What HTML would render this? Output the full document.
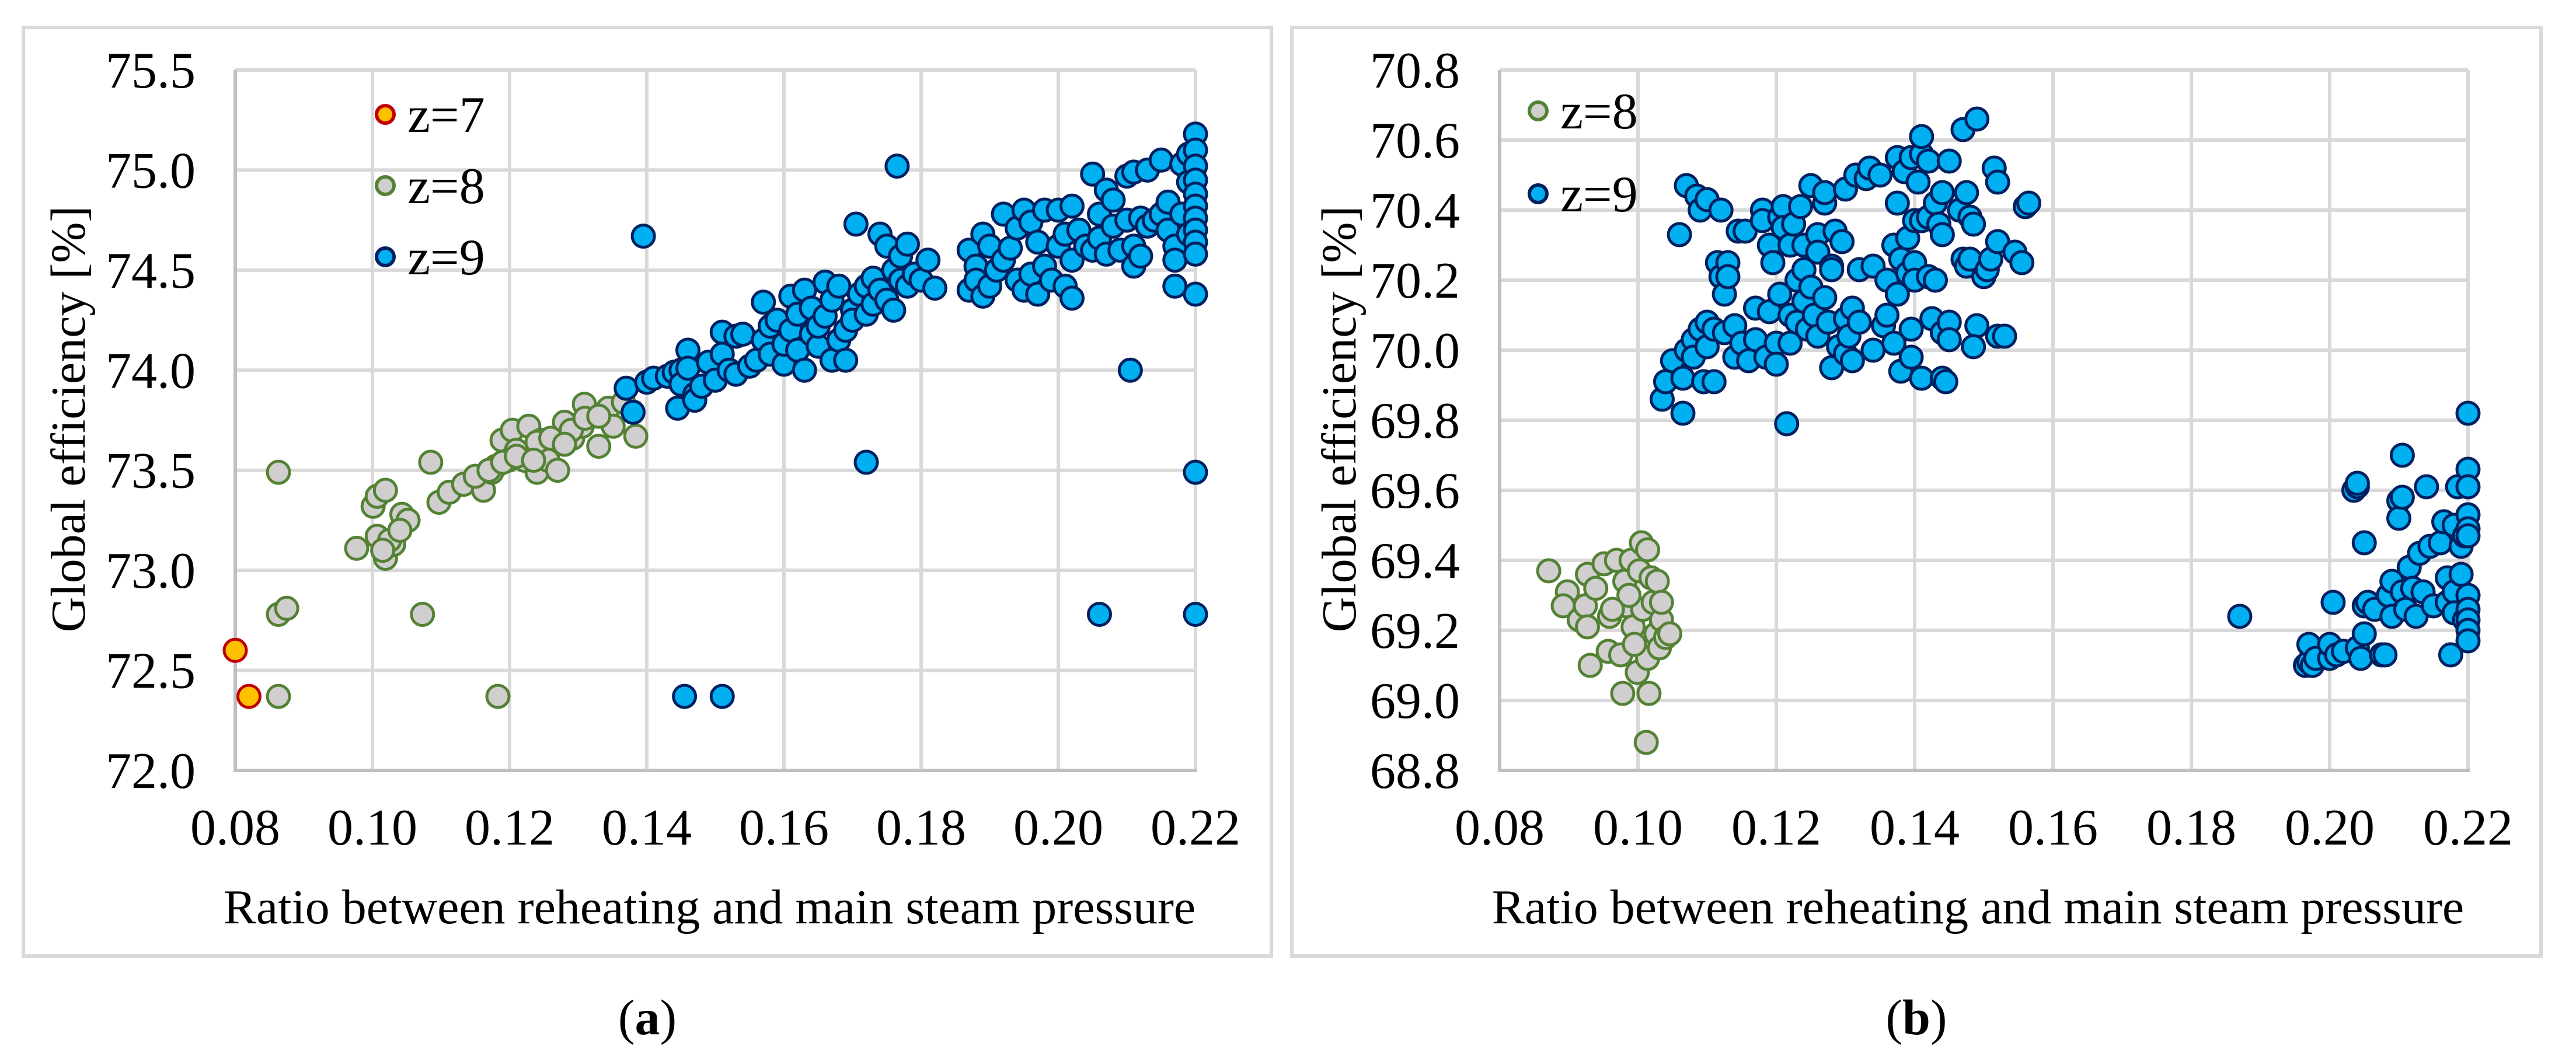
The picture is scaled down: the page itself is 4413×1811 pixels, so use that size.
<!DOCTYPE html>
<html><head><meta charset="utf-8">
<style>
html,body{margin:0;padding:0;background:#fff;}
svg{display:block;}
svg text{font-family:"Liberation Serif","Times New Roman","DejaVu Serif",serif;fill:#000;}
</style></head>
<body>
<svg id="fig" width="4413" height="1811" viewBox="0 0 4413 1811" xmlns="http://www.w3.org/2000/svg" font-family="Liberation Serif, DejaVu Serif, serif">
<rect x="0" y="0" width="4413" height="1811" fill="#fff"/>
<rect x="40" y="47" width="2138" height="1591" fill="none" stroke="#d9d9d9" stroke-width="6"/>
<rect x="2213" y="47" width="2140" height="1591" fill="none" stroke="#d9d9d9" stroke-width="6"/>
<g id="chartA"></g>
<g id="chartB"></g>
<text x="1109" y="1772" font-size="86" text-anchor="middle">(<tspan font-weight="bold">a</tspan>)</text>
<text x="3283" y="1772" font-size="86" text-anchor="middle">(<tspan font-weight="bold">b</tspan>)</text>
</svg>
<script>
// ---------- Chart A data ----------
const xTicksA = [0.08,0.10,0.12,0.14,0.16,0.18,0.20,0.22];
const xTickLabelsA = ["0.08","0.10","0.12","0.14","0.16","0.18","0.20","0.22"];
const yTicksA = [72.0,72.5,73.0,73.5,74.0,74.5,75.0,75.5];
const yTickLabelsA = ["72.0","72.5","73.0","73.5","74.0","74.5","75.0","75.5"];
const a_z7_x = [0.080,0.082];
const a_z7_y = [72.60,72.37];
const a_z8_x = [0.0863,0.0863,0.0875,0.0863,0.1073,0.1183,0.0977,0.1001,0.1007,0.1019,0.1007,0.1019,0.1031,0.1043,0.1052,0.1085,0.1097,0.1112,0.1133,0.1162,0.1172,0.1180,0.1189,0.1204,0.1210,0.1228,0.1240,0.1246,0.1256,0.1270,0.1280,0.1292,0.1309,0.1306,0.1330,0.1344,0.1351,0.1366,0.1384,0.1222,0.1198,0.1174,0.115,0.117,0.119,0.121,0.124,0.126,0.129,0.131,0.133,0.128,0.1235,0.1025,0.104,0.1015];
const a_z8_y = [73.49,72.78,72.81,72.37,72.78,72.37,73.11,73.32,73.37,73.40,73.17,73.06,73.13,73.28,73.25,73.54,73.34,73.39,73.43,73.40,73.50,73.52,73.65,73.70,73.60,73.72,73.49,73.65,73.55,73.50,73.74,73.66,73.83,73.72,73.62,73.81,73.72,73.84,73.67,73.55,73.55,73.49,73.47,73.50,73.54,73.57,73.64,73.66,73.70,73.76,73.77,73.63,73.55,73.15,73.20,73.10];
const a_z9_x = [0.1395,0.1765,0.1705,0.172,0.2105,0.22,0.206,0.22,0.1455,0.151,0.22,0.217,0.138,
0.137,0.140,0.141,0.143,0.144,0.145,0.145,0.1445,0.146,0.146,0.147,0.147,0.148,0.149,0.150,0.151,0.151,0.152,0.153,0.153,0.154,0.155,0.156,0.157,0.157,0.158,0.158,0.159,0.160,0.160,0.161,0.161,0.162,0.162,0.163,0.163,0.164,0.164,0.165,0.165,0.166,0.166,0.167,0.167,0.168,0.168,0.169,0.169,0.170,0.170,0.171,0.172,0.172,0.173,0.173,0.174,0.174,0.175,0.175,0.176,0.176,0.177,0.177,0.178,0.178,0.179,0.180,0.181,0.182,
0.187,0.187,0.188,0.188,0.189,0.189,0.190,0.190,0.191,0.192,0.192,0.193,0.194,0.194,0.195,0.195,0.196,0.196,0.197,0.197,0.198,0.198,0.199,0.200,0.200,0.201,0.201,0.202,0.202,0.202,0.203,0.204,0.205,0.205,0.206,0.206,0.207,0.207,0.208,0.208,0.209,0.210,0.210,0.211,0.211,0.211,0.212,0.212,0.213,0.213,0.214,0.215,0.215,0.216,0.216,0.217,0.217,0.218,0.218,0.219,0.219,0.219,0.220,0.220,0.220,0.220,0.220,0.220,0.220,0.220,0.220,0.220];
const a_z9_y = [74.67,75.02,74.73,73.54,74.00,73.49,72.78,72.78,72.37,72.37,74.38,74.42,73.79,
73.91,73.94,73.96,73.97,73.99,74.00,73.93,73.81,74.10,74.01,73.88,73.85,73.92,74.04,73.95,74.19,74.08,74.00,74.17,73.98,74.18,74.02,74.05,74.34,74.15,74.22,74.08,74.25,74.03,74.13,74.37,74.20,74.10,74.28,74.40,74.00,74.18,74.31,74.12,74.22,74.44,74.27,74.05,74.35,74.15,74.42,74.20,74.05,74.30,74.25,74.38,74.42,74.28,74.46,74.33,74.40,74.68,74.62,74.35,74.30,74.50,74.57,74.45,74.63,74.42,74.48,74.45,74.55,74.41,
74.60,74.40,74.52,74.45,74.37,74.68,74.62,74.42,74.50,74.78,74.55,74.61,74.45,74.71,74.80,74.40,74.74,74.48,74.64,74.38,74.80,74.52,74.45,74.62,74.80,74.68,74.42,74.36,74.82,74.55,74.70,74.62,74.98,74.60,74.78,74.66,74.90,74.58,74.85,74.72,74.60,74.97,74.75,74.52,74.62,74.99,74.57,74.76,75.00,74.72,74.75,74.78,75.05,74.84,74.70,74.62,74.55,75.03,74.78,75.08,74.94,74.68,75.18,75.10,75.02,74.95,74.88,74.82,74.76,74.70,74.64,74.58];

// ---------- Chart B data ----------
const xTicksB = [0.08,0.10,0.12,0.14,0.16,0.18,0.20,0.22];
const xTickLabelsB = ["0.08","0.10","0.12","0.14","0.16","0.18","0.20","0.22"];
const yTicksB = [68.8,69.0,69.2,69.4,69.6,69.8,70.0,70.2,70.4,70.6,70.8];
const yTickLabelsB = ["68.8","69.0","69.2","69.4","69.6","69.8","70.0","70.2","70.4","70.6","70.8"];
const b_z8_x = [0.0871,0.0898,0.0892,0.0915,0.0927,0.0924,0.0931,0.0939,0.0927,0.0951,0.0957,0.0959,0.0969,0.0975,0.0978,0.0981,0.0983,0.0990,0.0993,0.0999,0.1005,0.1002,0.1007,0.1012,0.1016,0.1014,0.1019,0.1022,0.1026,0.1031,0.1034,0.1040,0.1046,0.1028,0.1014,0.0987,0.0963,0.0995,0.1034];
const b_z8_y = [69.37,69.31,69.27,69.23,69.36,69.27,69.10,69.32,69.21,69.39,69.14,69.24,69.40,69.13,69.02,69.34,69.27,69.40,69.21,69.08,69.45,69.37,69.26,68.88,69.02,69.12,69.35,69.28,69.19,69.15,69.23,69.18,69.19,69.34,69.43,69.30,69.26,69.16,69.28];
const b_z9_x = [0.1035,0.104,0.105,0.106,0.1065,0.1065,0.107,0.107,0.108,0.108,0.1085,0.109,0.109,0.1095,0.110,0.110,0.110,0.111,0.111,0.1115,0.112,0.112,0.1125,0.1125,0.113,0.113,0.114,0.114,0.1145,0.115,0.1155,0.116,0.117,0.117,0.118,0.118,0.1185,0.119,0.119,0.1195,0.120,0.120,0.1205,0.1205,0.121,0.121,0.1215,0.122,0.122,0.122,0.1225,0.123,0.123,0.1235,0.124,0.124,0.124,0.1245,0.125,0.125,0.1255,0.126,0.126,0.126,0.127,0.127,0.127,0.1275,0.128,0.128,0.128,0.1285,0.129,0.1295,0.130,0.130,0.130,0.1305,0.131,0.131,0.1315,0.132,0.132,0.133,0.1335,0.134,0.134,0.135,0.1355,0.136,0.136,0.137,0.137,0.1375,0.1375,0.1375,0.138,0.138,0.1385,0.139,0.139,0.1395,0.1395,0.1395,0.140,0.140,0.140,0.1405,0.141,0.141,0.141,0.141,0.142,0.142,0.142,0.1425,0.143,0.143,0.1435,0.144,0.144,0.144,0.144,0.1445,0.145,0.145,0.145,0.1465,0.147,0.147,0.1475,0.1475,0.148,0.148,0.1485,0.149,0.149,0.1485,0.150,0.1505,0.151,0.1515,0.152,0.152,0.152,0.153,0.1545,0.1555,0.156,0.1565,
0.187,0.1965,0.197,0.1975,0.197,0.198,0.200,0.200,0.201,0.2005,0.202,0.2035,0.204,0.204,0.204,0.2045,0.205,0.205,0.205,0.2055,0.2065,0.2075,0.208,0.2085,0.209,0.209,0.210,0.210,0.2105,0.2105,0.2105,0.211,0.2115,0.212,0.2125,0.213,0.2135,0.214,0.2145,0.215,0.216,0.2165,0.217,0.217,0.2175,0.218,0.218,0.218,0.2185,0.219,0.219,0.2195,0.2195,0.220,0.220,0.220,0.220,0.220,0.220,0.220,0.220,0.220,0.220,0.220];
const b_z9_y = [69.86,69.91,69.97,70.33,69.82,69.92,70.00,70.47,70.03,69.98,70.44,70.40,70.06,69.91,70.43,70.08,70.01,70.06,69.91,70.25,70.40,70.21,70.05,70.16,70.25,70.21,70.07,69.98,70.34,70.02,70.34,69.97,70.12,70.03,70.40,70.37,69.98,70.30,70.11,70.25,70.02,69.96,70.38,70.16,70.41,70.35,69.79,70.30,70.10,70.02,70.36,70.20,70.08,70.41,70.14,70.30,70.23,70.06,70.47,70.18,70.10,70.33,70.04,70.28,70.42,70.45,70.15,70.08,70.24,69.95,70.23,70.34,70.01,70.31,70.09,69.99,70.46,70.04,70.12,69.97,70.50,70.23,70.08,70.49,70.52,70.00,70.24,70.50,70.07,70.20,70.10,70.30,70.02,70.55,70.42,70.16,70.26,69.94,70.51,70.32,70.22,70.55,70.06,69.98,70.37,70.25,70.20,70.48,70.56,70.61,70.37,69.92,70.38,70.21,70.54,70.09,70.42,70.20,70.36,70.45,70.33,70.05,69.92,69.91,70.08,70.03,70.54,70.40,70.26,70.63,70.24,70.45,70.38,70.26,70.36,70.66,70.07,70.01,70.21,70.23,70.26,70.52,70.48,70.31,70.04,70.04,70.28,70.25,70.41,70.42,
69.24,69.10,69.11,69.10,69.16,69.12,69.12,69.16,69.13,69.28,69.14,69.60,69.61,69.62,69.15,69.12,69.45,69.27,69.19,69.28,69.26,69.13,69.13,69.30,69.34,69.24,69.57,69.52,69.70,69.58,69.31,69.26,69.38,69.32,69.24,69.42,69.31,69.61,69.44,69.27,69.45,69.51,69.35,69.28,69.13,69.50,69.31,69.25,69.61,69.44,69.36,69.47,69.23,69.82,69.66,69.61,69.53,69.49,69.47,69.30,69.26,69.23,69.20,69.17];

const NS = "http://www.w3.org/2000/svg";
const FONT = "Liberation Serif, DejaVu Serif, serif";
const STY = {
  z7:{fill:"#ffc000",stroke:"#c00000"},
  z8:{fill:"#d0cece",stroke:"#548235"},
  z9:{fill:"#00b0f0",stroke:"#002060"}
};
function mk(tag, parent){ const e=document.createElementNS(NS,tag); parent.appendChild(e); if(tag==="text") e.setAttribute("font-family",FONT); return e; }

function drawChart(g, cfg){
  const sx = v => cfg.x0 + (v - cfg.xmin)/(cfg.xmax - cfg.xmin)*(cfg.x1 - cfg.x0);
  const sy = v => cfg.y1 - (v - cfg.ymin)/(cfg.ymax - cfg.ymin)*(cfg.y1 - cfg.y0);
  cfg.yTicks.forEach((t,i)=>{
    if(i===0) return;
    const l=mk("line",g);
    
    
    l.setAttribute("x1",cfg.x0); l.setAttribute("x2",cfg.x1);
    l.setAttribute("y1",sy(t)); l.setAttribute("y2",sy(t));
    l.setAttribute("stroke","#d9d9d9"); l.setAttribute("stroke-width","6");
  });
  cfg.xTicks.forEach((t,i)=>{
    if(i===0) return;
    const l=mk("line",g);
    
    
    l.setAttribute("x1",sx(t)); l.setAttribute("x2",sx(t));
    l.setAttribute("y1",cfg.y0); l.setAttribute("y2",cfg.y1);
    l.setAttribute("stroke","#d9d9d9"); l.setAttribute("stroke-width","6");
  });
  const ax=mk("line",g);
  
  
  ax.setAttribute("x1",cfg.x0-3); ax.setAttribute("x2",cfg.x1+3);
  ax.setAttribute("y1",cfg.y1); ax.setAttribute("y2",cfg.y1);
  ax.setAttribute("stroke","#bfbfbf"); ax.setAttribute("stroke-width","6");
  const ay=mk("line",g);
  
  
  ay.setAttribute("x1",cfg.x0); ay.setAttribute("x2",cfg.x0);
  ay.setAttribute("y1",cfg.y0); ay.setAttribute("y2",cfg.y1+3);
  ay.setAttribute("stroke","#bfbfbf"); ay.setAttribute("stroke-width","6");
  cfg.yTicks.forEach((t,i)=>{
    const tx=mk("text",g);
    
    
    tx.setAttribute("x",cfg.x0-68); tx.setAttribute("y",sy(t)+30);
    tx.setAttribute("text-anchor","end"); tx.setAttribute("font-size","88");
    tx.textContent=cfg.yLabels[i];
  });
  cfg.xTicks.forEach((t,i)=>{
    const tx=mk("text",g);
    
    
    tx.setAttribute("x",sx(t)); tx.setAttribute("y",1447);
    tx.setAttribute("text-anchor","middle"); tx.setAttribute("font-size","88");
    tx.textContent=cfg.xLabels[i];
  });
  const xt=mk("text",g);
  
  
  xt.setAttribute("x",(cfg.x0+cfg.x1)/2-10); xt.setAttribute("y",1582);
  xt.setAttribute("text-anchor","middle"); xt.setAttribute("font-size","84");
  xt.textContent="Ratio between reheating and main steam pressure";
  const yt=mk("text",g);
  
  
  yt.setAttribute("transform","translate("+cfg.ytx+",718) rotate(-90)");
  yt.setAttribute("text-anchor","middle"); yt.setAttribute("font-size","84");
  yt.textContent="Global efficiency [%]";
  cfg.series.forEach(s=>{
    const sg=mk("g",g);
    
    
    s.xs.forEach((xv,i)=>{
      const c=mk("circle",sg);
      
      
      c.setAttribute("cx",sx(xv)); c.setAttribute("cy",sy(s.ys[i])); c.setAttribute("r","19");
      c.setAttribute("fill",STY[s.key].fill); c.setAttribute("stroke",STY[s.key].stroke); c.setAttribute("stroke-width","5");
    });
  });
  cfg.legend.forEach((lg,i)=>{
    const c=mk("circle",g);
    
    
    c.setAttribute("cx",cfg.lgx); c.setAttribute("cy",lg.y); c.setAttribute("r","15");
    c.setAttribute("fill",STY[lg.key].fill); c.setAttribute("stroke",STY[lg.key].stroke); c.setAttribute("stroke-width","6");
    const t=mk("text",g);
    
    
    t.setAttribute("x",cfg.lgx+38); t.setAttribute("y",lg.y+30); t.setAttribute("font-size","88");
    t.textContent=lg.label;
  });
}

drawChart(document.getElementById("chartA"),{
  x0:403,x1:2048,y0:120,y1:1320,xmin:0.08,xmax:0.22,ymin:72.0,ymax:75.5,
  xTicks:xTicksA,xLabels:xTickLabelsA,yTicks:yTicksA,yLabels:yTickLabelsA,ytx:145,
  series:[{key:"z8",xs:a_z8_x,ys:a_z8_y},{key:"z9",xs:a_z9_x,ys:a_z9_y},{key:"z7",xs:a_z7_x,ys:a_z7_y}],
  lgx:660,legend:[{key:"z7",label:"z=7",y:196},{key:"z8",label:"z=8",y:318},{key:"z9",label:"z=9",y:440}]
});
drawChart(document.getElementById("chartB"),{
  x0:2569,x1:4228,y0:120,y1:1320,xmin:0.08,xmax:0.22,ymin:68.8,ymax:70.8,
  xTicks:xTicksB,xLabels:xTickLabelsB,yTicks:yTicksB,yLabels:yTickLabelsB,ytx:2322,
  series:[{key:"z8",xs:b_z8_x,ys:b_z8_y},{key:"z9",xs:b_z9_x,ys:b_z9_y}],
  lgx:2635,legend:[{key:"z8",label:"z=8",y:190},{key:"z9",label:"z=9",y:332}]
});
</script>
</body></html>
